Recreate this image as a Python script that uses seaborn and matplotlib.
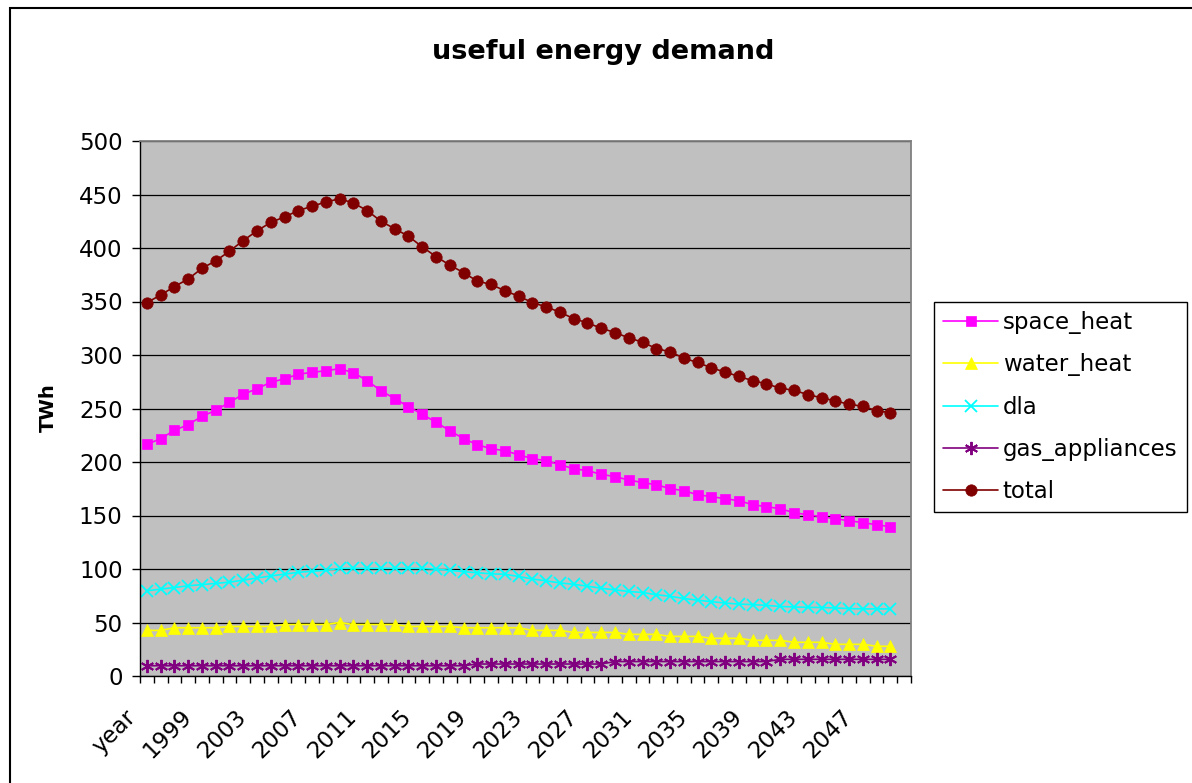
import numpy as np
import pandas as pd
import matplotlib
matplotlib.use("Agg")
import matplotlib.pyplot as plt
import matplotlib.transforms as mtransforms
from matplotlib.patches import Rectangle
import seaborn as sns

# Category axis: header cell followed by the model years
categories = ["year"] + [str(y) for y in range(1996, 2051)]

space_heat = [216.5, 221.8, 229.6, 234.9, 242.7, 248.3, 255.8, 263.3, 268.5, 274.5,
              277.8, 282.0, 283.8, 285.3, 287.2, 283.5, 276.0, 266.6, 259.2, 251.7,
              244.6, 237.1, 229.3, 221.8, 216.2, 212.4, 210.6, 206.8, 203.1, 201.2,
              197.5, 193.7, 191.9, 188.5, 186.3, 183.2, 180.7, 178.8, 175.1, 173.2,
              169.4, 167.6, 165.7, 163.8, 160.1, 158.2, 156.4, 152.6, 150.7, 148.9,
              147.0, 145.1, 143.3, 141.4, 139.5]
water_heat = [42.6, 42.6, 45.1, 45.1, 45.1, 45.1, 46.3, 46.3, 46.3, 46.3,
              48.1, 48.1, 48.1, 48.1, 50.0, 48.1, 48.1, 48.1, 48.1, 46.3,
              46.3, 46.3, 46.3, 45.1, 45.1, 45.1, 45.1, 45.1, 42.6, 42.6,
              42.6, 40.7, 40.7, 40.7, 40.7, 38.9, 38.9, 38.9, 37.0, 37.0,
              37.0, 35.2, 35.2, 35.2, 33.3, 33.3, 33.3, 31.5, 31.5, 31.5,
              29.6, 29.6, 29.6, 27.8, 27.8]
dla = [79.6, 81.2, 82.7, 84.3, 85.4, 86.6, 87.7, 89.6, 91.6, 93.5,
       95.2, 96.9, 97.9, 98.8, 100.6, 100.6, 100.6, 100.6, 100.6, 100.6,
       100.6, 99.8, 98.8, 97.5, 96.5, 95.5, 95.1, 93.0, 90.7, 88.9,
       87.0, 85.7, 84.0, 82.0, 80.5, 79.0, 78.0, 76.0, 74.5, 72.5,
       70.8, 69.5, 68.2, 67.2, 66.7, 66.0, 65.0, 64.5, 64.2, 64.0,
       63.6, 63.0, 62.7, 62.7, 62.7]
gas_appliances = [9.6, 9.6, 9.6, 9.6, 9.6, 9.6, 9.6, 9.6, 9.6, 9.6,
                  9.6, 9.6, 9.6, 9.6, 9.6, 9.6, 9.6, 9.6, 9.6, 9.6,
                  9.6, 9.6, 9.6, 9.6, 11.2, 11.2, 11.2, 11.2, 11.2, 11.2,
                  11.2, 11.2, 11.2, 11.2, 13.5, 13.5, 13.5, 13.5, 13.5, 13.5,
                  13.5, 13.5, 13.5, 13.5, 13.5, 13.5, 15.6, 15.6, 15.6, 15.6,
                  15.6, 15.6, 15.6, 15.6, 15.6]
total = [349, 356, 364, 371, 381, 388, 397, 407, 416, 424,
         429, 435, 439, 443, 446, 442, 435, 425, 418, 411,
         401, 392, 384, 377, 369, 366, 360, 355, 349, 345,
         340, 334, 330, 325, 321, 316, 312, 306, 303, 297,
         293, 288, 284, 280, 276, 273, 269, 267, 263, 260,
         257, 254, 252, 248, 246]

series_names = ["space_heat", "water_heat", "dla", "gas_appliances", "total"]
series_values = [space_heat, water_heat, dla, gas_appliances, total]
y_ticks = [0, 50, 100, 150, 200, 250, 300, 350, 400, 450, 500]

# Long-form table: each value sits on its category slot
rows = []
for name, vals in zip(series_names, series_values):
    for cat, v in zip(categories, vals):
        rows.append({"series": name, "category": cat, "value": v})
df = pd.DataFrame(rows)
cat_pos = {c: i for i, c in enumerate(categories)}
df["pos"] = df["category"].map(cat_pos)

styles = {
    "space_heat": dict(color="#FF00FF", marker="s", markersize=7.6, mew=0.5),
    "water_heat": dict(color="#FFFF00", marker="^", markersize=9.0, mew=0.5),
    "dla": dict(color="#00FFFF", marker="x", markersize=9.0, mew=1.3),
    "gas_appliances": dict(color="#800080", marker=(6, 2, 0), markersize=9.5, mew=1.4),
    "total": dict(color="#800000", marker="o", markersize=8.2, mew=0.5),
}

sns.set_style("ticks")
plt.rcParams["font.family"] = ["DejaVu Sans"]
plt.rcParams["text.color"] = "black"
plt.rcParams["xtick.color"] = "black"
plt.rcParams["ytick.color"] = "black"
plt.rcParams["xtick.labelcolor"] = "black"
plt.rcParams["ytick.labelcolor"] = "black"
plt.rcParams["legend.labelcolor"] = "black"

W, H = 1192, 783
fig = plt.figure(figsize=(W / 100, H / 100), dpi=100)
ax = fig.add_axes([140 / W, 1 - 676 / H, (911 - 140) / W, (676 - 141) / H])
ax.set_facecolor("#C0C0C0")

for name in series_names:
    st = styles[name]
    sns.lineplot(data=df[df["series"] == name], x="pos", y="value", ax=ax,
                 color=st["color"], marker=st["marker"], markersize=st["markersize"],
                 markeredgecolor=st["color"], markerfacecolor=st["color"],
                 markeredgewidth=st["mew"], linewidth=1.2, label=name,
                 errorbar=None, sort=False)

n_cat = len(categories)
ax.set_xlim(-0.5, n_cat - 0.5)
ax.set_ylim(0, 500)
ax.set_yticks(y_ticks)
ax.set_yticklabels([str(t) for t in y_ticks], fontsize=16.5, color="black")
ax.yaxis.grid(True, color="black", linewidth=0.9)
ax.xaxis.grid(False)
ax.set_axisbelow(True)
ax.set_xlabel("")
ax.set_ylabel("")

# Tick marks on category boundaries, labels on every fourth category
ax.set_xticks(np.arange(-0.5, n_cat, 1.0))
ax.set_xticklabels([])
label_idx = list(range(0, n_cat, 4))
ax.set_xticks(label_idx, minor=True)
ax.set_xticklabels([categories[i] for i in label_idx], minor=True, fontsize=16.5,
                   rotation=45, ha="right", va="center", rotation_mode="anchor",
                   color="black")
ax.tick_params(axis="x", which="major", direction="out", length=5, width=1, color="black")
ax.tick_params(axis="x", which="minor", length=0, pad=27)
ax.tick_params(axis="y", direction="out", length=5.5, width=1, color="black", pad=7)
shift = mtransforms.ScaledTranslation(-14 / 100, 0, fig.dpi_scale_trans)
for lab in ax.xaxis.get_minorticklabels():
    lab.set_transform(lab.get_transform() + shift)

for side in ["left", "bottom"]:
    ax.spines[side].set_color("black")
    ax.spines[side].set_linewidth(1.0)
for side in ["top", "right"]:
    ax.spines[side].set_color("#808080")
    ax.spines[side].set_linewidth(1.3)

leg = ax.legend(loc="upper left", bbox_to_anchor=(934 / W, 1 - 302 / H),
                bbox_transform=fig.transFigure, frameon=True, fancybox=False,
                edgecolor="black", framealpha=1, fontsize=16.5, handlelength=2.4,
                handletextpad=0.2, borderpad=0.4, labelspacing=0.84, borderaxespad=0)
leg.get_frame().set_linewidth(1.0)
for t in leg.get_texts():
    t.set_color("black")

fig.text(603 / W, 1 - 52 / H, "useful energy demand", ha="center", va="center",
         fontsize=19.5, fontweight="bold", color="black")
fig.text(48 / W, 1 - 408 / H, "TWh", ha="center", va="center", rotation=90,
         fontsize=14, fontweight="bold", color="black")

fig.patches.append(Rectangle((10 / W, -0.05), 1.0, 1 - 8 / H + 0.05,
                             transform=fig.transFigure, fill=False,
                             edgecolor="black", linewidth=1.5))

fig.savefig("out.png", dpi=100, facecolor="white")
